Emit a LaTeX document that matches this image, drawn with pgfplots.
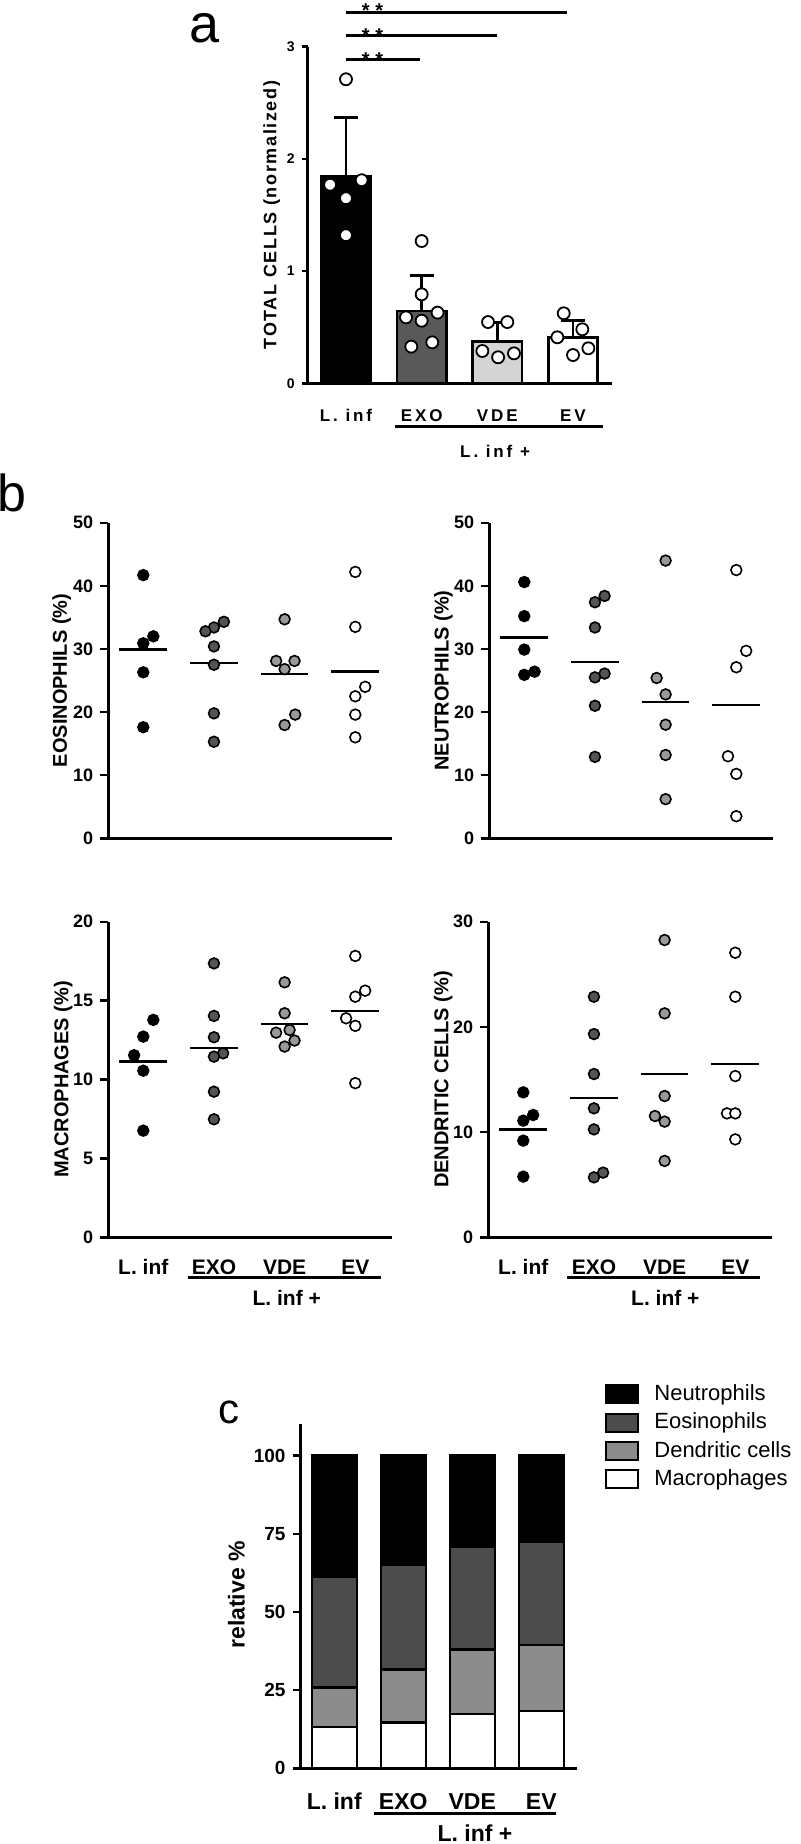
\documentclass[border=0pt]{standalone}
\usepackage{pgfplots}
\pgfplotsset{compat=1.18}
\usepackage{fontspec}
\setmainfont{Liberation Sans}
\newfontfamily\lsA[LetterSpace=9]{Liberation Sans}
\newfontfamily\lsB[LetterSpace=17]{Liberation Sans}
\newcommand{\aT}{\bfseries\fontsize{7}{8}\selectfont}
\newcommand{\aX}{\lsB\bfseries\fontsize{8.5}{10}\selectfont}
\newcommand{\aS}{\bfseries\fontsize{10}{12}\selectfont}
\newcommand{\aY}{\lsA\bfseries\fontsize{9}{10.8}\selectfont}
\newcommand{\bTick}{\bfseries\fontsize{9}{10}\selectfont}
\newcommand{\bX}{\bfseries\fontsize{10.5}{12}\selectfont}
\newcommand{\bY}{\bfseries\fontsize{10}{12}\selectfont}
\newcommand{\cT}{\bfseries\fontsize{9.5}{11}\selectfont}
\newcommand{\cX}{\bfseries\fontsize{11.5}{13}\selectfont}
\newcommand{\cLeg}{\fontsize{11}{13}\selectfont}
\definecolor{exoA}{gray}{0.35}
\definecolor{vdeA}{gray}{0.83}
\definecolor{exoB}{gray}{0.33}
\definecolor{vdeB}{gray}{0.60}
\definecolor{eosC}{gray}{0.30}
\definecolor{dcC}{gray}{0.55}
\pgfplotsset{
  gpb/.style={
    scale only axis, width=141.7pt, height=157.8pt,
    xmin=-0.495, xmax=3.515, ymin=0,
    axis lines=left, axis line style={-, line width=1.2pt},
    tick align=outside, major tick length=4pt, tick style={line width=1.2pt, black},
    x tick style={draw=none},
    yticklabel style={font=\bTick},
    xticklabel style={font=\bX, anchor=center, yshift=-11pt},
    ylabel style={font=\bY, anchor=center},
    clip=false,
    /pgf/number format/assume math mode=true,
  },
  dots/.style={only marks, mark=*, mark size=2.7pt, mark options={fill=#1, draw=black, line width=0.8pt}},
  mline/.style={line width=1.2pt, black, mark=none},
}
\pgfplotstableread{
x mac dc eos neut
0 13.3 12.5 35.5 38.7
1 14.7 16.9 33.4 35.0
2 17.4 20.6 32.9 29.1
3 18.4 21.0 32.9 27.7
}\stacked
\begin{document}
\begin{tikzpicture}
\useasboundingbox (0,0) rectangle (400pt,-922pt);
% panel labels
\node[font=\fontsize{27}{30}\selectfont, anchor=base] at (102.5pt,-21pt) {a};
\node[font=\fontsize{26}{30}\selectfont, anchor=base west, inner sep=0pt] at (-1.5pt,-255.85pt) {b};
\node[font=\fontsize{21}{24}\selectfont, anchor=base] at (114.5pt,-711.6pt) {c};

% ---------------- panel a
\begin{axis}[at={(153.85pt,-191.65pt)}, anchor=south west, scale only axis,
  width=152.15pt, height=168.3pt, xmin=-0.506, xmax=3.515, ymin=0, ymax=3,
  axis lines=left, axis line style={-, line width=1.3pt},
  ytick={0,1,2,3}, xtick={0,1,2,3}, xticklabels={L. inf, EXO, VDE, EV},
  tick align=outside, major tick length=3pt, tick style={line width=1.3pt, black},
  x tick style={draw=none},
  yticklabel style={font=\aT},
  xticklabel style={font=\aX, anchor=center, yshift=-13pt},
  ylabel={TOTAL CELLS (normalized)},
  ylabel style={font=\aY, at={(axis description cs:-0.118,0.5)}, anchor=center},
  clip=false, /pgf/number format/assume math mode=true]
\addplot[ybar, bar width=24.75pt, bar shift=0pt, fill=black, draw=black, line width=1.3pt,
  error bars/.cd, y dir=plus, y explicit, error bar style={line width=1.3pt, black},
  error mark options={rotate=90, mark size=6pt, line width=1.3pt, black}]
  coordinates {(0,1.848) +- (0,0.519)};
\addplot[ybar, bar width=24.75pt, bar shift=0pt, fill=exoA, draw=black, line width=1.3pt,
  error bars/.cd, y dir=plus, y explicit, error bar style={line width=1.3pt, black},
  error mark options={rotate=90, mark size=6pt, line width=1.3pt, black}]
  coordinates {(1,0.644) +- (0,0.318)};
\addplot[ybar, bar width=24.75pt, bar shift=0pt, fill=vdeA, draw=black, line width=1.3pt,
  error bars/.cd, y dir=plus, y explicit, error bar style={line width=1.3pt, black},
  error mark options={rotate=90, mark size=6pt, line width=1.3pt, black}]
  coordinates {(2,0.374) +- (0,0.166)};
\addplot[ybar, bar width=24.75pt, bar shift=0pt, fill=white, draw=black, line width=1.3pt,
  error bars/.cd, y dir=plus, y explicit, error bar style={line width=1.3pt, black},
  error mark options={rotate=90, mark size=6pt, line width=1.3pt, black}]
  coordinates {(3,0.406) +- (0,0.152)};
\addplot[only marks, mark=*, mark size=3pt, mark options={fill=white, draw=black, line width=0.9pt}]
  coordinates {(0,2.71) (-0.21,1.77) (0.207,1.81) (0,1.65) (0,1.32)
  (1,1.268) (1,0.793) (0.793,0.588) (1.21,0.630) (1,0.558) (1.14,0.365) (0.863,0.327)
  (1.877,0.546) (2.132,0.546) (1.802,0.288) (2.01,0.232) (2.22,0.267)
  (2.877,0.624) (3.123,0.481) (2.793,0.41) (3.203,0.312) (3,0.252)};
\draw[line width=1.3pt] (axis cs:-0.506,0) -- (axis cs:-0.585,0);
\draw[line width=1.5pt] (axis cs:0,2.888) -- (axis cs:0.98,2.888);
\draw[line width=1.5pt] (axis cs:0,3.104) -- (axis cs:1.99,3.104);
\draw[line width=1.5pt] (axis cs:0,3.307) -- (axis cs:2.92,3.307);
\node[font=\aS, anchor=base, yshift=-3.5pt, inner sep=0pt] at (axis cs:0.35,2.888) {*\hspace{2.8pt}*};
\node[font=\aS, anchor=base, yshift=-3.5pt, inner sep=0pt] at (axis cs:0.35,3.104) {*\hspace{2.8pt}*};
\node[font=\aS, anchor=base, yshift=-2.5pt, inner sep=0pt] at (axis cs:0.35,3.307) {*\hspace{2.8pt}*};
\draw[line width=1.5pt] (axis cs:0.648,-0.387) -- (axis cs:3.39,-0.387);
\node[font=\aX] at (axis cs:1.97,-0.61) {L. inf +};
\end{axis}

% ---------------- panel b: eosinophils
\begin{axis}[gpb, at={(54.15pt,-419.15pt)}, anchor=south west, ymax=50,
  ytick={0,10,20,30,40,50}, xtick=\empty,
  ylabel={EOSINOPHILS (\%)}, ylabel style={at={(axis description cs:-0.1645,0.5)}}]
\addplot[dots=black] coordinates {(0,41.7) (0.142,32.0) (0,30.9) (0,26.3) (0,17.6)};
\addplot[dots=exoB] coordinates {(1.14,34.3) (1,33.4) (0.88,32.8) (1,30.4) (1,27.5) (1,19.8) (1,15.3)};
\addplot[dots=vdeB] coordinates {(2,34.7) (1.88,28.1) (2.14,28.1) (2,26.8) (2.15,19.6) (2,17.95)};
\addplot[dots=white] coordinates {(3,42.2) (3,33.5) (3.14,24.0) (3,22.5) (3,19.6) (3,16.0)};
\addplot[mline] coordinates {(-0.337,29.9) (0.337,29.9)};
\addplot[mline] coordinates {(0.663,27.8) (1.337,27.8)};
\addplot[mline] coordinates {(1.663,26.0) (2.337,26.0)};
\addplot[mline] coordinates {(2.663,26.4) (3.337,26.4)};
\end{axis}

% ---------------- panel b: neutrophils
\begin{axis}[gpb, at={(244.65pt,-419.15pt)}, anchor=south west, ymax=50,
  ytick={0,10,20,30,40,50}, xtick=\empty,
  ylabel={NEUTROPHILS (\%)}, ylabel style={at={(axis description cs:-0.162,0.5)}}]
\addplot[dots=black] coordinates {(0,40.6) (0,35.2) (0,29.9) (0,25.9) (0.146,26.4)};
\addplot[dots=exoB] coordinates {(1.136,38.4) (1,37.4) (1,33.4) (1.136,26.1) (1,25.5) (1,21.0) (1,12.9)};
\addplot[dots=vdeB] coordinates {(2,44.0) (1.873,25.4) (2,22.8) (2,18.0) (2,13.2) (2,6.2)};
\addplot[dots=white] coordinates {(3,42.5) (3.14,29.7) (3,27.1) (2.882,13.0) (3,10.2) (3,3.5)};
\addplot[mline] coordinates {(-0.337,31.8) (0.337,31.8)};
\addplot[mline] coordinates {(0.663,27.9) (1.337,27.9)};
\addplot[mline] coordinates {(1.663,21.6) (2.337,21.6)};
\addplot[mline] coordinates {(2.663,21.1) (3.337,21.1)};
\end{axis}

% ---------------- panel b: macrophages
\begin{axis}[gpb, at={(54.15pt,-618.65pt)}, anchor=south west, ymax=20,
  ytick={0,5,10,15,20}, xtick={0,1,2,3}, xticklabels={L. inf, EXO, VDE, EV},
  ylabel={MACROPHAGES (\%)}, ylabel style={at={(axis description cs:-0.159,0.5)}}]
\addplot[dots=black] coordinates {(0.142,13.78) (0,12.72) (-0.13,11.54) (0,10.56) (0,6.76)};
\addplot[dots=exoB] coordinates {(1,17.36) (1,14.03) (1,12.68) (1.13,11.66) (1,11.45) (1,9.23) (1,7.48)};
\addplot[dots=vdeB] coordinates {(2,16.16) (2,14.2) (2.07,13.14) (1.88,12.97) (2.14,12.47) (2,12.09)};
\addplot[dots=white] coordinates {(3,17.83) (3.14,15.63) (3,15.25) (2.87,13.88) (3,13.4) (3,9.77)};
\addplot[mline] coordinates {(-0.337,11.14) (0.337,11.14)};
\addplot[mline] coordinates {(0.663,11.98) (1.337,11.98)};
\addplot[mline] coordinates {(1.663,13.52) (2.337,13.52)};
\addplot[mline] coordinates {(2.663,14.36) (3.337,14.36)};
\draw[line width=1.5pt] (axis cs:0.637,-2.56) -- (axis cs:3.36,-2.56);
\node[font=\bX] at (axis cs:2.03,-3.87) {L. inf +};
\end{axis}

% ---------------- panel b: dendritic cells
\begin{axis}[gpb, at={(244.15pt,-618.65pt)}, anchor=south west, ymax=30,
  ytick={0,10,20,30}, xtick={0,1,2,3}, xticklabels={L. inf, EXO, VDE, EV},
  ylabel={DENDRITIC CELLS (\%)}, ylabel style={at={(axis description cs:-0.159,0.5)}}]
\addplot[dots=black] coordinates {(0,13.78) (0.14,11.63) (0,11.09) (0,9.19) (0,5.77)};
\addplot[dots=exoB] coordinates {(1,22.87) (1,19.32) (1,15.52) (1,12.26) (1,10.26) (1.13,6.15) (1,5.7)};
\addplot[dots=vdeB] coordinates {(2,28.26) (2,21.29) (2,13.43) (1.863,11.53) (2,11.0) (2,7.26)};
\addplot[dots=white] coordinates {(3,27.05) (3,22.87) (3,15.33) (2.882,11.78) (3,11.78) (3,9.31)};
\addplot[mline] coordinates {(-0.337,10.26) (0.337,10.26)};
\addplot[mline] coordinates {(0.663,13.27) (1.337,13.27)};
\addplot[mline] coordinates {(1.663,15.52) (2.337,15.52)};
\addplot[mline] coordinates {(2.663,16.47) (3.337,16.47)};
\draw[line width=1.5pt] (axis cs:0.625,-3.84) -- (axis cs:3.35,-3.84);
\node[font=\bX] at (axis cs:2.01,-5.8) {L. inf +};
\end{axis}

% ---------------- panel c
\begin{axis}[at={(150.3pt,-884.15pt)}, anchor=south west, scale only axis,
  width=138.3pt, height=172pt, xmin=-0.487, xmax=3.52, ymin=0, ymax=110,
  ybar stacked, bar width=22.5pt,
  axis lines=left, axis line style={-, line width=1.2pt},
  ytick={0,25,50,75,100}, xtick={0,1,2,3}, xticklabels={L. inf, EXO, VDE, EV},
  tick align=outside, major tick length=4pt, tick style={line width=1.2pt, black},
  x tick style={draw=none},
  yticklabel style={font=\cT},
  xticklabel style={font=\cX, anchor=center, yshift=-12.5pt},
  ylabel={relative \%},
  ylabel style={font=\cX, at={(axis description cs:-0.232,0.504)}, anchor=center},
  clip=false, /pgf/number format/assume math mode=true,
  reverse legend,
  legend image code/.code={\draw[#1, draw=black, line width=1pt] (0pt,-4.5pt) rectangle (15.75pt,4.5pt);},
  legend style={at={(axis description cs:1.1005,1.12)}, anchor=north west, draw=none, fill=none,
    font=\cLeg, inner sep=0pt, row sep=3.15pt, legend cell align=left,
    nodes={inner sep=1pt, text height=7.5pt, text depth=1.5pt},
    /tikz/every odd column/.append style={column sep=6.75pt}}]
\addplot[fill=white, draw=black, line width=1.2pt] table[x=x, y=mac] {\stacked};
\addlegendentry{Macrophages}
\addplot[fill=dcC, draw=black, line width=1.2pt] table[x=x, y=dc] {\stacked};
\addlegendentry{Dendritic cells}
\addplot[fill=eosC, draw=black, line width=1.2pt] table[x=x, y=eos] {\stacked};
\addlegendentry{Eosinophils}
\addplot[fill=black, draw=black, line width=1.2pt] table[x=x, y=neut] {\stacked};
\addlegendentry{Neutrophils}
\draw[line width=1.2pt] (axis cs:-0.487,0) -- (axis cs:-0.603,0);
\draw[line width=1.5pt] (axis cs:0.572,-14.5) -- (axis cs:3.207,-14.5);
\node[font=\cX, anchor=base, inner sep=0pt] at (axis cs:2.04,-23.3) {L. inf +};
\end{axis}
\end{tikzpicture}
\end{document}
